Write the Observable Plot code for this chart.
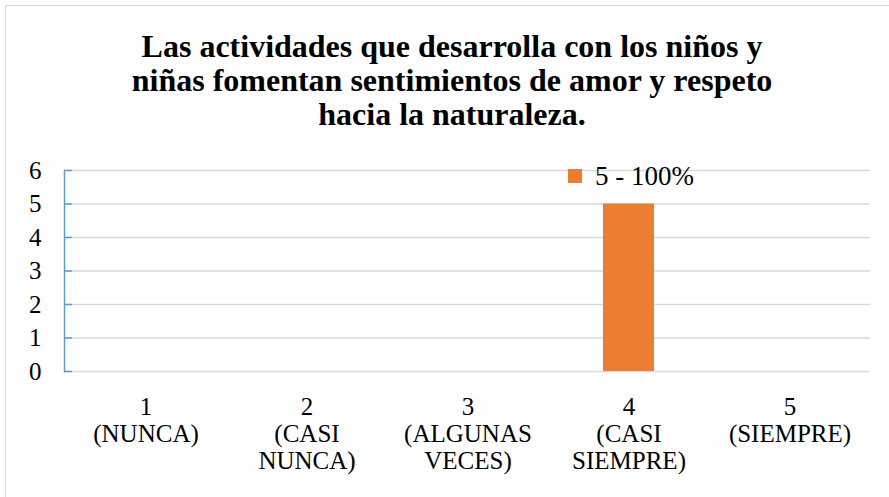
<!DOCTYPE html>
<html>
<head>
<meta charset="utf-8">
<script src="https://cdn.jsdelivr.net/npm/d3@7"></script>
<script src="https://cdn.jsdelivr.net/npm/@observablehq/plot@0.6"></script>
<style>
  html, body { margin: 0; padding: 0; background: #fff; }
  body { width: 889px; height: 497px; overflow: hidden; position: relative; }
  #border { position: absolute; left: 5px; top: 5px; width: 900px; height: 520px; border: 1.5px solid #d9d9d9; box-sizing: border-box; }
  #title { position: relative; height: 140px; box-sizing: border-box; padding-top: 29px; margin-left: 15px; text-align: center; font-weight: bold; font-size: 32px; line-height: 34px; color: #000; }
  #legend { position: absolute; left: 568px; top: 159px; font-size: 27px; line-height: 34px; display: flex; align-items: center; color: #000; }
  #legend span.sw { display: inline-block; width: 14px; height: 14px; background: #ed7d31; margin-right: 13px; }
  #chart { position: relative; }
</style>
</head>
<body>
<div id="border"></div>
<div id="title" style="font-family:'Liberation Serif', serif">Las actividades que desarrolla con los niños y<br>niñas fomentan sentimientos de amor y respeto<br>hacia la naturaleza.</div>
<div id="chart"></div>
<div id="legend" style="font-family:'Liberation Serif', serif"><span class="sw"></span><span id="legendText"></span></div>
<script>
const categories = ["1\n(NUNCA)", "2\n(CASI\nNUNCA)", "3\n(ALGUNAS\nVECES)", "4\n(CASI\nSIEMPRE)", "5\n(SIEMPRE)"];
const values = [0, 0, 0, 5, 0];
const seriesName = "5 - 100%";
const yTicks = [0, 1, 2, 3, 4, 5, 6];

document.getElementById("legendText").textContent = seriesName;
const data = categories.map((c, i) => ({category: c, value: values[i]}));

const plot = Plot.plot({
  width: 889,
  height: 357,
  marginLeft: 64,
  marginRight: 19,
  marginTop: 30,
  marginBottom: 126,
  style: {background: "transparent"},
  x: {domain: categories, padding: 0, label: null},
  y: {domain: [0, 6], label: null},
  marks: [
    Plot.gridY(yTicks, {stroke: "#d9d9d9", strokeOpacity: 1, strokeWidth: 1.5}),
    Plot.frame({anchor: "left", stroke: "#5b9bd5", strokeWidth: 1.5}),
    Plot.axisY(yTicks, {tickSize: -8, stroke: "#5b9bd5", strokeWidth: 1.5, tickPadding: 31, fontSize: 25, fill: "#000", label: null, fontFamily: "Liberation Serif"}),
    Plot.axisX({tickSize: 0, tickPadding: 24, fontSize: 25, fill: "#000", lineHeight: 1.08, label: null, textAnchor: "middle", fontFamily: "Liberation Serif"}),
    Plot.barY(data, {x: "category", y: "value", fill: "#ed7d31", insetLeft: 55, insetRight: 55})
  ]
});
document.getElementById("chart").appendChild(plot);
</script>
</body>
</html>
